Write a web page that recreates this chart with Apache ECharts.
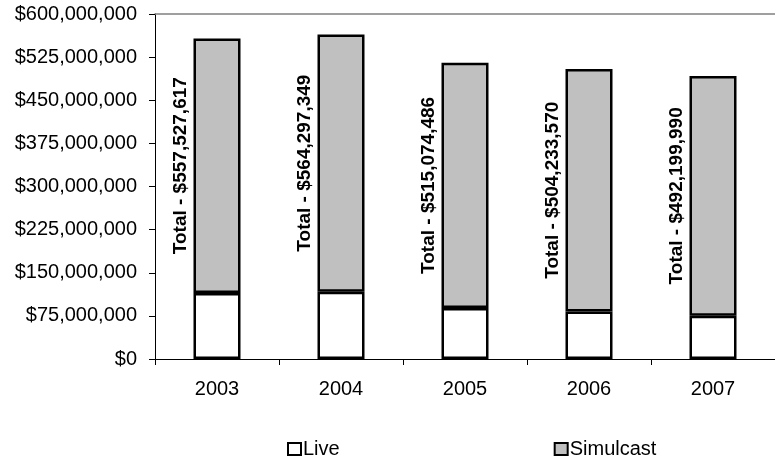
<!DOCTYPE html>
<html><head><meta charset="utf-8">
<script src="https://cdn.jsdelivr.net/npm/echarts@6/dist/echarts.min.js"></script>
<style>html,body{margin:0;padding:0;background:#fff}#c{width:775px;height:461px}</style>
</head><body><div id="c"></div>
<script>
const years = ['2003', '2004', '2005', '2006', '2007'];
const totals = [557527617, 564297349, 515074486, 504233570, 492199990];
const live = [114800000, 117000000, 88700000, 82800000, 75300000];
const seriesNames = ['Live', 'Simulcast'];
const yTicks = { min: 0, max: 600000000, interval: 75000000 };

const simulcast = totals.map((t, i) => t - live[i]);
const fmt = v => '$' + Math.round(v).toString().replace(/\B(?=(\d{3})+(?!\d))/g, ',');
const FONT = '"Liberation Sans", Arial, sans-serif';

const chart = echarts.init(document.getElementById('c'), null, { renderer: 'canvas' });
chart.setOption({
  animation: false,
  backgroundColor: '#ffffff',
  textStyle: { fontFamily: FONT },
  grid: { left: 155, top: 14, width: 630, height: 345, containLabel: false },
  legend: {
    data: seriesNames,
    left: 282, top: 434,
    itemWidth: 13, itemHeight: 12, itemGap: 214,
    icon: 'rect',
    textStyle: { fontFamily: FONT, fontSize: 20, color: '#000', padding: [0, 0, 0, -3] }
  },
  xAxis: [{
    type: 'category', data: years, position: 'bottom',
    axisLine: { lineStyle: { color: '#000', width: 1 } },
    axisTick: { show: true, alignWithLabel: false, length: 6, lineStyle: { color: '#000' } },
    axisLabel: { fontFamily: FONT, fontSize: 20, color: '#000', margin: 20 },
    splitLine: { show: false }
  }, {
    type: 'category', data: years, position: 'top',
    axisLine: { show: true, lineStyle: { color: '#808080', width: 1.5 } },
    axisTick: { show: false }, axisLabel: { show: false }
  }],
  yAxis: {
    type: 'value', min: yTicks.min, max: yTicks.max, interval: yTicks.interval,
    axisLine: { show: true, lineStyle: { color: '#000', width: 1 } },
    axisTick: { show: true, length: 6, lineStyle: { color: '#000' } },
    axisLabel: { fontFamily: FONT, fontSize: 20, color: '#000', margin: 18, formatter: fmt },
    splitLine: { show: false }
  },
  series: [{
    name: seriesNames[0], type: 'bar', stack: 'a', barWidth: 47,
    data: live,
    itemStyle: { color: '#ffffff', borderColor: '#000', borderWidth: 2.5 }
  }, {
    name: seriesNames[1], type: 'bar', stack: 'a', barWidth: 47,
    data: simulcast,
    itemStyle: { color: '#c0c0c0', borderColor: '#000', borderWidth: 2.5 },
    label: {
      show: true, position: [-13, '50%'], rotate: 90,
      align: 'center', verticalAlign: 'middle',
      fontFamily: FONT, fontWeight: 'bold', fontSize: 19, color: '#000',
      formatter: p => 'Total - ' + fmt(totals[p.dataIndex])
    }
  }]
});
</script></body></html>
